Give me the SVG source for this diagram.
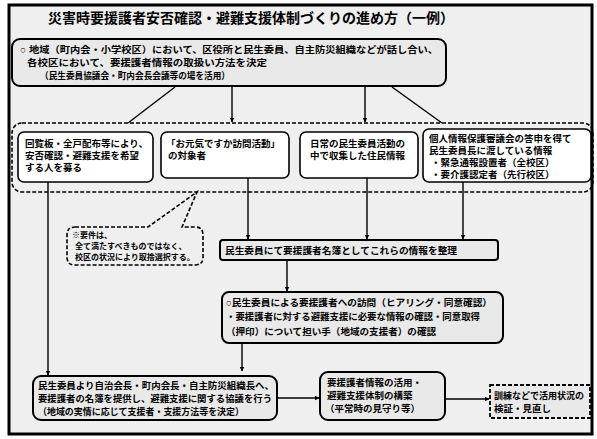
<svg xmlns="http://www.w3.org/2000/svg" width="597" height="439" viewBox="0 0 597 439">
<style>
text{font-family:'Liberation Sans','Noto Sans CJK JP',sans-serif;fill:#000;}
.t{font-size:9.5px;font-weight:bold;}
.s{font-size:8px;font-weight:bold;}
.title{font-size:14px;font-weight:bold;}
.box{fill:#fff;stroke:#000;stroke-width:1.6;}
.nbox{fill:#e9e9e9;stroke:#000;stroke-width:2;}
.dash{fill:none;stroke:#000;stroke-width:1.6;stroke-dasharray:4 2;}
.ln{stroke:#000;stroke-width:1.4;fill:none;}
</style>
<defs>
<marker id="ah" viewBox="0 0 10 10" refX="9" refY="5" markerWidth="5" markerHeight="5" orient="auto-start-reverse" markerUnits="userSpaceOnUse">
<path d="M0,0 L10,5 L0,10 Z" fill="#000"/>
</marker>
</defs>
<rect x="0" y="0" width="597" height="439" fill="#fff"/>
<rect x="9" y="5" width="583" height="429" fill="#efefef" stroke="#000" stroke-width="3"/>

<g id="title">
<text class="title" x="48" y="23" textLength="406" lengthAdjust="spacingAndGlyphs">災害時要援護者安否確認・避難支援体制づくりの進め方（一例）</text>
</g>

<g id="top-box">
<rect class="nbox" x="12" y="39" width="434" height="47" rx="8"/>
<text class="t" x="20" y="53" textLength="418" lengthAdjust="spacingAndGlyphs">○ 地域（町内会・小学校区）において、区役所と民生委員、自主防災組織などが話し合い、</text>
<text class="t" x="27" y="66" textLength="240" lengthAdjust="spacingAndGlyphs">各校区において、要援護者情報の取扱い方法を決定</text>
<text class="t" x="40" y="79" textLength="190" lengthAdjust="spacingAndGlyphs">（民生委員協議会・町内会長会議等の場を活用）</text>
</g>

<g id="region">
<rect class="dash" x="12" y="123" width="581" height="69" rx="10"/>
</g>

<g id="box1">
<rect class="box" x="18" y="132" width="135" height="50" rx="6"/>
<text class="t" x="25" y="147">回覧板・全戸配布等により、</text>
<text class="t" x="25" y="159">安否確認・避難支援を希望</text>
<text class="t" x="25" y="171">する人を募る</text>
</g>

<g id="box2">
<rect class="box" x="161" y="132" width="128" height="46" rx="6"/>
<text class="t" x="166" y="147">「お元気ですか訪問活動」</text>
<text class="t" x="168" y="159">の対象者</text>
</g>

<g id="box3">
<rect class="box" x="300" y="132" width="118" height="46" rx="6"/>
<text class="t" x="310" y="147">日常の民生委員活動の</text>
<text class="t" x="310" y="159">中で収集した住民情報</text>
</g>

<g id="box4">
<rect class="box" x="423" y="129" width="168" height="53" rx="6"/>
<text class="t" x="429" y="142">個人情報保護審議会の答申を得て</text>
<text class="t" x="429" y="154">民生委員長に渡している情報</text>
<text class="t" x="431" y="166">・緊急通報設置者（全校区）</text>
<text class="t" x="431" y="178">・要介護認定者（先行校区）</text>
</g>

<g id="note">
<path class="dash" d="M75 227 H148 L197 192 L182 227 H195 Q203 227 203 235 V257 Q203 265 195 265 H75 Q67 265 67 257 V235 Q67 227 75 227 Z" fill="#fff"/>
<text class="s" x="72" y="238">※要件は、</text>
<text class="s" x="75" y="249">全て満たすべきものではなく、</text>
<text class="s" x="75" y="260">校区の状況により取捨選択する。</text>
</g>

<g id="list-box">
<rect class="nbox" x="220" y="240" width="278" height="20" rx="3"/>
<text class="t" x="225" y="254" textLength="232" lengthAdjust="spacingAndGlyphs">民生委員にて要援護者名簿としてこれらの情報を整理</text>
</g>

<g id="visit-box">
<rect class="nbox" x="222" y="292" width="281" height="51" rx="7"/>
<text class="t" x="226" y="306" textLength="266" lengthAdjust="spacingAndGlyphs">○民生委員による要援護者への訪問（ヒアリング・同意確認）</text>
<text class="t" x="226" y="320" textLength="254" lengthAdjust="spacingAndGlyphs">・要援護者に対する避難支援に必要な情報の確認・同意取得</text>
<text class="t" x="226" y="335" textLength="210" lengthAdjust="spacingAndGlyphs">（押印）について担い手（地域の支援者）の確認</text>
</g>

<g id="share-box">
<rect class="nbox" x="33" y="376" width="244" height="44" rx="8"/>
<text class="t" x="38" y="389" textLength="236" lengthAdjust="spacingAndGlyphs">民生委員より自治会長・町内会長・自主防災組織長へ、</text>
<text class="t" x="38" y="402" textLength="234" lengthAdjust="spacingAndGlyphs">要援護者の名簿を提供し、避難支援に関する協議を行う</text>
<text class="t" x="38" y="415" textLength="206" lengthAdjust="spacingAndGlyphs">（地域の実情に応じて支援者・支援方法等を決定）</text>
</g>

<g id="use-box">
<rect class="nbox" x="320" y="372" width="125" height="48" rx="8"/>
<text class="t" x="327" y="386">要援護者情報の活用・</text>
<text class="t" x="327" y="399">避難支援体制の構築</text>
<text class="t" x="325" y="412">（平常時の見守り等）</text>
</g>

<g id="check-box">
<rect x="490" y="385" width="100" height="33" fill="#e9e9e9" stroke="#000" stroke-width="1.8" stroke-dasharray="4 2"/>
<text class="t" x="494" y="399" textLength="90" lengthAdjust="spacingAndGlyphs">訓練などで活用状況の</text>
<text class="t" x="494" y="412">検証・見直し</text>
</g>

<g id="connectors">
<line class="ln" x1="175" y1="87" x2="128" y2="123"/>
<line class="ln" x1="392" y1="87" x2="442" y2="123"/>
<line class="ln" x1="232" y1="87" x2="232" y2="122" marker-end="url(#ah)"/>
<line class="ln" x1="365" y1="87" x2="365" y2="122" marker-end="url(#ah)"/>
<line class="ln" x1="48" y1="182" x2="48" y2="375" marker-end="url(#ah)"/>
<line class="ln" x1="248" y1="178" x2="248" y2="239" marker-end="url(#ah)"/>
<line class="ln" x1="367" y1="178" x2="367" y2="239" marker-end="url(#ah)"/>
<line class="ln" x1="463" y1="182" x2="463" y2="239" marker-end="url(#ah)"/>
<line class="ln" x1="287" y1="260" x2="287" y2="291" marker-end="url(#ah)"/>
<line class="ln" x1="242" y1="343" x2="242" y2="371" marker-end="url(#ah)"/>
<line class="ln" x1="277" y1="398" x2="319" y2="398" marker-end="url(#ah)"/>
<line class="ln" x1="445" y1="399" x2="489" y2="399" marker-end="url(#ah)"/>
</g>
</svg>
